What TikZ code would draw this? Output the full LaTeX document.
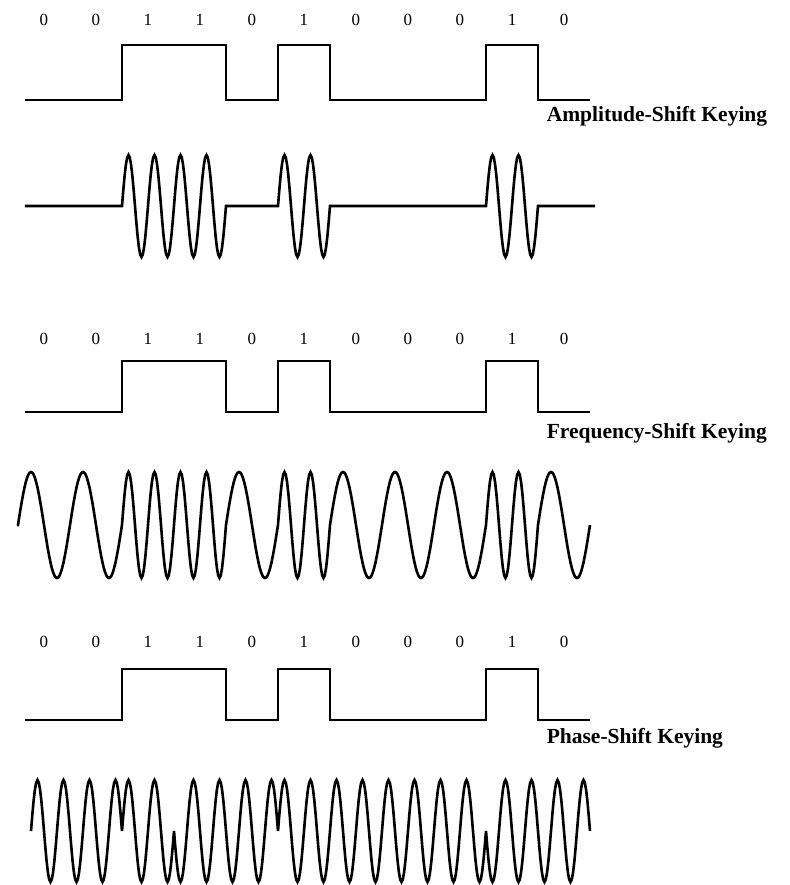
\documentclass[tikz,border=0pt]{standalone}
\usepackage{fontspec}
\setmainfont{Liberation Serif}
\usepackage{tikz}

\begin{document}
\begin{tikzpicture}[x=52pt, y=-1pt, line width=2.6pt]
    \useasboundingbox (-0.346,0) rectangle (14.846,885);
    % bits, data signal and name of each keying
    \foreach \key/\lab/\hi/\lo/\ty/\name in {ask/20/45/100/116/Amplitude-Shift Keying, fsk/339/361/412/433/Frequency-Shift Keying, psk/642/669/720/738/Phase-Shift Keying} {
        \foreach \b [count=\i from 0] in {0,0,1,1,0,1,0,0,0,1,0}
            \node[font=\fontsize{17}{17}\selectfont] (\key-bit\i) at (\i+0.5,\lab) {\b};
        \draw (0.13,\lo) -- (2,\lo) -- (2,\hi) -- (4,\hi) -- (4,\lo) -- (5,\lo) -- (5,\hi) -- (6,\hi) -- (6,\lo) -- (9,\lo) -- (9,\hi) -- (10,\hi) -- (10,\lo) -- (11,\lo);
        \node[anchor=west, font=\bfseries\fontsize{21.5}{21.5}\selectfont] (\key-name) at (10.08,\ty) {\name};
    }
    % amplitude-shift keying
    \draw (0.13,206) -- (2,206) \foreach \b [count=\i from 2] in {1,1,0,1,0,0,0,1,0} {
        -- plot[domain=0:1, samples=41, variable=\t] ({\i+\t},{206-51*\b*sin(720*\t)}) } -- (11.1,206);
    % frequency-shift keying
    \draw (-0.02,525) \foreach \b [count=\i from 0] in {0,0,1,1,0,1,0,0,0,1,0} {
        -- plot[domain=0:1, samples=41, variable=\t] ({\i+\t},{525-53*sin(360*(1+\b)*\t)}) };
    % phase-shift keying, phase turned at every 1
    \draw plot[domain=0.25:1, samples=31, variable=\t] ({\t},{831+51*sin(720*\t)})
        \foreach \s [count=\i from 1] in {1,-1,1,1,-1,-1,-1,-1,1,1} {
        -- plot[domain=0:1, samples=41, variable=\t] ({\i+\t},{831+51*\s*sin(720*\t)}) };
\end{tikzpicture}
\end{document}
